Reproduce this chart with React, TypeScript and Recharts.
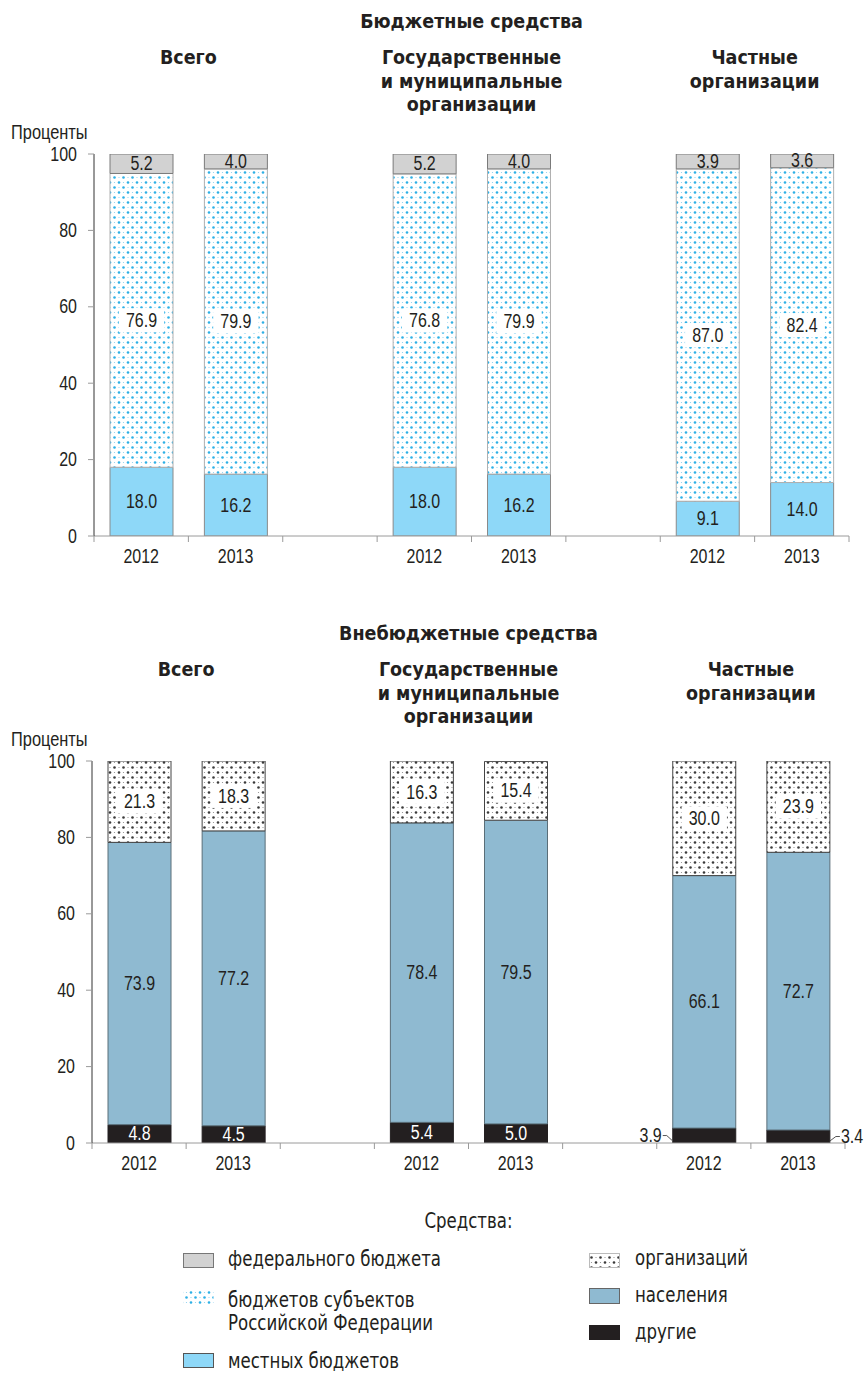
import React from 'react';
import { BarChart, Bar, XAxis, YAxis, LabelList } from 'recharts';

const NUM_FONT = "'Liberation Sans', Arial, sans-serif";
const WORD_FONT = "'DejaVu Sans Condensed', 'DejaVu Sans', sans-serif";
const INK = '#231f20';

// ---- data ----
const categories = ['2012', '2013', '', '2012', '2013', '', '2012', '2013'];
const yTicks = [0, 20, 40, 60, 80, 100];

// Бюджетные средства
const federalBudget = [5.2, 4.0, null, 5.2, 4.0, null, 3.9, 3.6];
const regionalBudgets = [76.9, 79.9, null, 76.8, 79.9, null, 87.0, 82.4];
const localBudgets = [18.0, 16.2, null, 18.0, 16.2, null, 9.1, 14.0];

// Внебюджетные средства
const organizations = [21.3, 18.3, null, 16.3, 15.4, null, 30.0, 23.9];
const population = [73.9, 77.2, null, 78.4, 79.5, null, 66.1, 72.7];
const otherSources = [4.8, 4.5, null, 5.4, 5.0, null, 3.9, 3.4];

// labels drawn outside the bar (index of category -> side)
const outsideLabels: Record<number, 'L' | 'R'> = { 6: 'L', 7: 'R' };

const groupTitles = [
  ['Всего'],
  ['Государственные', 'и муниципальные', 'организации'],
  ['Частные', 'организации'],
];

const budgetData = categories.map((c, i) => ({
  key: 'c' + i,
  local: localBudgets[i],
  regional: regionalBudgets[i],
  federal: federalBudget[i],
}));

const extraData = categories.map((c, i) => ({
  key: 'c' + i,
  other: otherSources[i],
  population: population[i],
  orgs: organizations[i],
}));

// ---- layout constants ----
const CH = 600;
const TOP_PLOT = { left: 94, right: 849, top: 154, bottom: 536 };
const BOT_OFFSET = 600;
const BOT_PLOT = { left: 92, right: 845, top: 761, bottom: 1143 };
const NUM_SIZE = 19.5;
const NARROW = 0.82;

const fmt = (v: number) => Number(v).toFixed(1);

const NText = ({ x, y, anchor = 'middle', size = NUM_SIZE, fill = INK, family = NUM_FONT, weight, sx = NARROW, baseline = 'central', children }: any) => (
  <text
    transform={`translate(${x} ${y}) scale(${sx} 1)`}
    x={0}
    y={0}
    textAnchor={anchor}
    dominantBaseline={baseline}
    fontFamily={family}
    fontSize={size}
    fontWeight={weight}
    fill={fill}
  >
    {children}
  </text>
);

const XTick = (props: any) => {
  const { x, y, payload, index } = props;
  const off = payload && payload.offset != null ? payload.offset : 47;
  const idx = payload && payload.index != null ? payload.index : index;
  const label = categories[idx];
  const last = idx === categories.length - 1;
  return (
    <g>
      <line x1={x - off} x2={x - off} y1={y} y2={y + 6} stroke="#9a9a9a" />
      {last ? <line x1={x + off} x2={x + off} y1={y} y2={y + 6} stroke="#9a9a9a" /> : null}
      {label ? <NText x={x} y={y + 20}>{label}</NText> : null}
    </g>
  );
};

const YTick = (props: any) => {
  const { x, y, payload } = props;
  return <NText x={x} y={y} anchor="end">{payload.value}</NText>;
};

const makeLabel = (kind: 'plain' | 'boxed' | 'white' | 'other') => (props: any) => {
  const { x, y, width, height } = props;
  let value = props.value;
  if (value == null || value === '') return null;
  let idx = -1;
  if (typeof value === 'string' && value.indexOf('|') >= 0) {
    const parts = value.split('|');
    idx = Number(parts[0].slice(1));
    value = Number(parts[1]);
  }
  const nx = Number(x), ny = Number(y), nw = Number(width), nh = Number(height);
  const s = fmt(value);
  const cx = nx + nw / 2;
  const cy = ny + nh / 2;
  const side = outsideLabels[idx];
  if (kind === 'other' && side === 'L') {
    return (
      <g>
        <polyline points={`${nx - 10},${cy} ${nx - 6},${cy} ${nx},${ny + nh - 2}`} fill="none" stroke="#555" strokeWidth={1} />
        <NText x={nx - 11} y={cy} anchor="end">{s}</NText>
      </g>
    );
  }
  if (kind === 'other' && side === 'R') {
    return (
      <g>
        <polyline points={`${nx + nw},${ny + nh - 2} ${nx + nw + 6},${cy} ${nx + nw + 10},${cy}`} fill="none" stroke="#555" strokeWidth={1} />
        <NText x={nx + nw + 11} y={cy} anchor="start">{s}</NText>
      </g>
    );
  }
  const color = kind === 'white' || kind === 'other' ? '#ffffff' : INK;
  const bw = s.length * 7.6 + 15;
  return (
    <g>
      {kind === 'boxed' ? <rect x={cx - bw / 2} y={cy - 12} width={bw} height={24} fill="#ffffff" /> : null}
      <NText x={cx} y={cy} fill={color}>{s}</NText>
    </g>
  );
};

const otherKey = (d: any) => (d.other == null ? null : d.key + '|' + d.other);

const Defs = () => (
  <svg width={0} height={0} style={{ position: 'absolute', left: 0, top: 0 }}>
    <defs>
      <pattern id="dotsBlue" width="9" height="10" patternUnits="userSpaceOnUse">
        <rect width="9" height="10" fill="#ffffff" />
        <circle cx="2" cy="2.5" r="1.3" fill="#2cb0e6" />
        <circle cx="6.5" cy="7.5" r="1.3" fill="#2cb0e6" />
        <circle cx="6.5" cy="2.5" r="0.6" fill="#86d0ef" />
        <circle cx="2" cy="7.5" r="0.6" fill="#86d0ef" />
      </pattern>
      <pattern id="dotsDark" width="9" height="10" patternUnits="userSpaceOnUse">
        <rect width="9" height="10" fill="#ffffff" />
        <circle cx="2" cy="2.5" r="1.3" fill="#3a3a3a" />
        <circle cx="6.5" cy="7.5" r="1.3" fill="#3a3a3a" />
        <circle cx="6.5" cy="2.5" r="0.6" fill="#8a8a8a" />
        <circle cx="2" cy="7.5" r="0.6" fill="#8a8a8a" />
      </pattern>
    </defs>
  </svg>
);

const pairCenter = (plot: any, g: number) => {
  const band = (plot.right - plot.left) / categories.length;
  return plot.left + band * (3 * g + 1);
};

const TITLE_SIZE = 19.5;

const Titles = ({ plot, title, yTop, pageTop }: any) => (
  <g>
    <text x={pairCenter(plot, 1)} y={pageTop + 28} textAnchor="middle" fontFamily={WORD_FONT} fontWeight="bold" fontSize={TITLE_SIZE} fill={INK}>{title}</text>
    {groupTitles.map((lines, g) =>
      lines.map((ln, j) => (
        <text key={g + '-' + j} x={pairCenter(plot, g)} y={pageTop + 64 + j * 23.5} textAnchor="middle" fontFamily={WORD_FONT} fontWeight="bold" fontSize={TITLE_SIZE} fill={INK}>{ln}</text>
      ))
    )}
    <NText x={11} y={yTop - 22} anchor="start" size={20}>Проценты</NText>
  </g>
);

const LEG_SIZE = 20.5;
const LEG_SX = 0.9;

const LegText = ({ x, y, children }: any) => (
  <NText x={x} y={y} anchor="start" size={LEG_SIZE} family={WORD_FONT} sx={LEG_SX} baseline="auto">{children}</NText>
);

const Swatch = ({ x, y, w, h, fill, stroke }: any) => (
  <rect x={x} y={y} width={w} height={h} fill={fill} stroke={stroke} strokeWidth={1} />
);

const Overlay = () => (
  <svg width={864} height={1373} style={{ position: 'absolute', left: 0, top: 0 }}>
    <Titles plot={TOP_PLOT} title="Бюджетные средства" yTop={TOP_PLOT.top} pageTop={0} />
    <Titles plot={BOT_PLOT} title="Внебюджетные средства" yTop={BOT_PLOT.top} pageTop={612} />
    <NText x={468.5} y={1228} anchor="middle" size={LEG_SIZE} family={WORD_FONT} sx={LEG_SX} baseline="auto">Средства:</NText>
    <Swatch x={183.5} y={1253.5} w={30} h={14} fill="#d2d2d2" stroke="#777777" />
    <LegText x={228} y={1266}>федерального бюджета</LegText>
    <Swatch x={183.5} y={1290.5} w={30} h={14} fill="url(#dotsBlue)" stroke="none" />
    <LegText x={228} y={1307}>бюджетов субъектов</LegText>
    <LegText x={228} y={1330}>Российской Федерации</LegText>
    <Swatch x={183.5} y={1353.5} w={30} h={14} fill="#8ed8f8" stroke="#555555" />
    <LegText x={228} y={1368}>местных бюджетов</LegText>
    <Swatch x={589.5} y={1253.5} w={30} h={14} fill="url(#dotsDark)" stroke="#bbbbbb" />
    <LegText x={635} y={1265}>организаций</LegText>
    <Swatch x={589.5} y={1288.5} w={30} h={15} fill="#8fbad1" stroke="#666666" />
    <LegText x={635} y={1302}>населения</LegText>
    <Swatch x={589.5} y={1325.5} w={30} h={14} fill={INK} stroke={INK} />
    <LegText x={635} y={1339}>другие</LegText>
  </svg>
);

const yAxisProps = {
  type: 'number' as const,
  domain: [0, 100],
  ticks: yTicks,
  allowDataOverflow: true,
  width: 60,
  tickSize: 6,
  tickMargin: 11,
  axisLine: { stroke: '#333333' },
  tickLine: { stroke: '#9a9a9a' },
  tick: <YTick />,
  interval: 0 as const,
};

export default function App() {
  return (
    <div style={{ position: 'absolute', left: 0, top: 0, width: 864, height: 1373, background: '#fff' }}>
      <Defs />
      <Overlay />
      <div style={{ position: 'absolute', left: 0, top: 0 }}>
        <BarChart
          width={864}
          height={CH}
          data={budgetData}
          barSize={63}
          margin={{ top: TOP_PLOT.top, right: 864 - TOP_PLOT.right, bottom: CH - TOP_PLOT.bottom - 30, left: TOP_PLOT.left - 60 }}
        >
          <XAxis dataKey="key" height={30} tickLine={false} tickSize={0} tickMargin={0} interval={0} axisLine={{ stroke: '#9a9a9a' }} tick={<XTick />} />
          <YAxis {...yAxisProps} />
          <Bar dataKey="local" stackId="a" fill="#8ed8f8" stroke="#8a8a8a" isAnimationActive={false}>
            <LabelList dataKey="local" content={makeLabel('plain')} />
          </Bar>
          <Bar dataKey="regional" stackId="a" fill="url(#dotsBlue)" stroke="#b0b0b0" isAnimationActive={false}>
            <LabelList dataKey="regional" content={makeLabel('boxed')} />
          </Bar>
          <Bar dataKey="federal" stackId="a" fill="#d2d2d2" stroke="#7a7a7a" isAnimationActive={false}>
            <LabelList dataKey="federal" content={makeLabel('plain')} />
          </Bar>
        </BarChart>
      </div>
      <div style={{ position: 'absolute', left: 0, top: BOT_OFFSET }}>
        <BarChart
          width={864}
          height={CH}
          data={extraData}
          barSize={63}
          margin={{ top: BOT_PLOT.top - BOT_OFFSET, right: 864 - BOT_PLOT.right, bottom: CH - (BOT_PLOT.bottom - BOT_OFFSET) - 30, left: BOT_PLOT.left - 60 }}
        >
          <XAxis dataKey="key" height={30} tickLine={false} tickSize={0} tickMargin={0} interval={0} axisLine={{ stroke: '#9a9a9a' }} tick={<XTick />} />
          <YAxis {...yAxisProps} />
          <Bar dataKey="other" stackId="b" fill={INK} stroke={INK} isAnimationActive={false}>
            <LabelList dataKey={otherKey} content={makeLabel('other')} />
          </Bar>
          <Bar dataKey="population" stackId="b" fill="#8fbad1" stroke="#5a6e78" isAnimationActive={false}>
            <LabelList dataKey="population" content={makeLabel('plain')} />
          </Bar>
          <Bar dataKey="orgs" stackId="b" fill="url(#dotsDark)" stroke="#444444" isAnimationActive={false}>
            <LabelList dataKey="orgs" content={makeLabel('boxed')} />
          </Bar>
        </BarChart>
      </div>
    </div>
  );
}
